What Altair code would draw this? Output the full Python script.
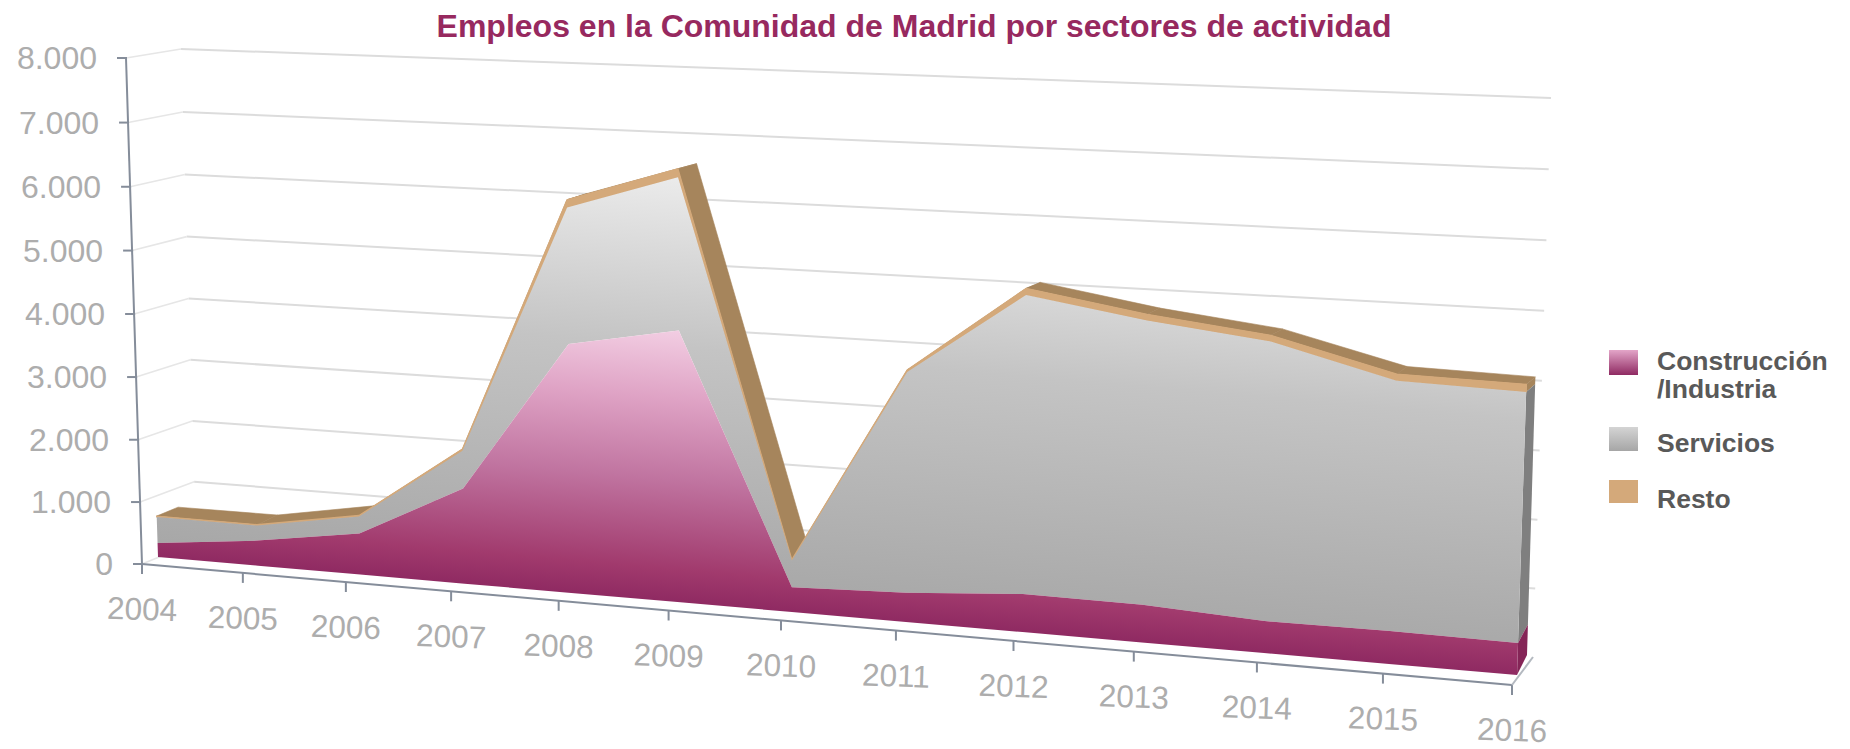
import altair as alt

years = list(range(2004, 2017))
construccion = [225, 400, 650, 1490, 3870, 4190, 380, 440, 570, 560, 470, 480, 460]
servicios = [419, 240, 270, 595, 2120, 2360, 405, 3340, 4480, 4220, 4110, 3640, 3620]
resto = [15, 15, 15, 25, 120, 130, 15, 30, 100, 90, 90, 100, 110]
y_ticks = [0, 1000, 2000, 3000, 4000, 5000, 6000, 7000, 8000]
y_labels = ["0", "1.000", "2.000", "3.000", "4.000", "5.000", "6.000", "7.000", "8.000"]
title_text = "Empleos en la Comunidad de Madrid por sectores de actividad"

MARGIN = 8
LAST = len(years) - 1
VMAX = 8000


def warp(u, k):
    return u / (u + k * (1 - u)) if u > 0 else 0.0


# perspective frame of the 3D chart: corners (bottom-left, bottom-right, top-left, top-right)
AXIS_PLANE = [(142, 564), (1512, 685), (126, 58), (1530, 120)]
BACK_WALL = [(196, 542), (1533, 657), (181, 49), (1551, 98)]
AREA_FRONT = [(158, 557), (1517, 675), (142, 60), (1535, 120)]
AREA_BACK = [(179, 548), (1527, 655), (168, 52), (1543, 124)]


def proj(plane, i, v, kv=1.0):
    s = warp(i / LAST, 1.144)
    w = warp(v / VMAX, kv)
    bl, br, tl, tr = plane
    out = []
    for a in (0, 1):
        bot = bl[a] + (br[a] - bl[a]) * s
        top = tl[a] + (tr[a] - tl[a]) * s
        out.append(bot + (top - bot) * w)
    return out


def poly(pts):
    ring = [list(p) for p in pts]
    ring.append(ring[0])
    return {"type": "Feature", "properties": {}, "geometry": {"type": "Polygon", "coordinates": [ring]}}


def line(pts):
    return {"type": "Feature", "properties": {}, "geometry": {"type": "LineString", "coordinates": [list(p) for p in pts]}}


idx = list(range(len(years)))
top1 = construccion
top2 = [a + b for a, b in zip(construccion, servicios)]
top3 = [a + b + c for a, b, c in zip(construccion, servicios, resto)]
f = lambda i, v: proj(AREA_FRONT, i, v)
b = lambda i, v: proj(AREA_BACK, i, v)


def band(lo, hi):
    return poly([f(i, lo[i]) for i in idx] + [f(i, hi[i]) for i in reversed(idx)])


zero = [0] * len(years)
pink_face = band(zero, top1)
gray_face = band(top1, top2)
tan_face = band(top2, top3)
top_quads = [poly([f(i, top3[i]), f(i + 1, top3[i + 1]), b(i + 1, top3[i + 1]), b(i, top3[i])]) for i in idx[:-1]]


def side(lo, hi):
    return poly([f(LAST, lo), f(LAST, hi), b(LAST, hi), b(LAST, lo)])


grid_back = [line([proj(BACK_WALL, 0, v, 1.024), proj(BACK_WALL, LAST, v, 1.024)]) for v in y_ticks[1:]]
grid_side = [line([proj(AXIS_PLANE, 0, v, 1.024), proj(BACK_WALL, 0, v, 1.024)]) for v in y_ticks]
axis_lines = [
    line([proj(AXIS_PLANE, 0, 0, 1.024), proj(AXIS_PLANE, 0, VMAX, 1.024)]),
    line([proj(AXIS_PLANE, 0, 0, 1.024), proj(AXIS_PLANE, LAST, 0, 1.024)]),
]
floor_side = [line([proj(AXIS_PLANE, LAST, 0, 1.024), proj(BACK_WALL, LAST, 0, 1.024)])]
for v in y_ticks:
    x, y = proj(AXIS_PLANE, 0, v, 1.024)
    axis_lines.append(line([(x - 9, y), (x + 1, y)]))
for i in idx:
    x, y = proj(AXIS_PLANE, i, 0, 1.024)
    axis_lines.append(line([(x, y), (x, y + 10)]))


def squares(x0, x1, y0, y1):
    return poly([(x0, y0), (x1, y0), (x1, y1), (x0, y1)])


IDENT = dict(type="identity", scale=1, translate=[-MARGIN, -MARGIN])


def shape(features, **mark):
    return alt.Chart(alt.Data(values=features)).mark_geoshape(**mark).project(**IDENT)


def grad(stops, x1=0.0, y1=1.0, x2=0.0, y2=0.0):
    return alt.Gradient(gradient="linear", x1=x1, y1=y1, x2=x2, y2=y2,
                        stops=[alt.GradientStop(offset=o, color=c) for o, c in stops])


PINK_STOPS = [(0, "#8f2a62"), (0.12, "#a13a6d"), (0.45, "#c074a0"), (0.75, "#dfa3c5"), (1, "#f2cde2")]
GRAY_STOPS = [(0, "#a6a6a6"), (0.6, "#c4c4c4"), (1, "#ebebeb")]
TAN = "#d4a97a"
BROWN = "#a6855c"
AXIS = "#858d9a"

layers = [
    shape(grid_back, filled=False, stroke="#dcdcdc", strokeWidth=2),
    shape(grid_side, filled=False, stroke="#e6e6e6", strokeWidth=1.6),
    shape(axis_lines, filled=False, stroke=AXIS, strokeWidth=2),
    shape(floor_side, filled=False, stroke="#b4b9c0", strokeWidth=2),
    shape(top_quads, fill=BROWN, stroke=BROWN, strokeWidth=0.6),
    shape([side(top2[LAST], top3[LAST])], fill=BROWN),
    shape([side(top1[LAST], top2[LAST])], fill="#7f7f7f"),
    shape([side(0, top1[LAST])], fill="#852557"),
    shape([tan_face], fill=TAN, stroke=TAN, strokeWidth=1.2),
    shape([gray_face], fill=grad(GRAY_STOPS, 0, 0.815, 0.217, -0.042)),
    shape([pink_face], fill=grad(PINK_STOPS, 0, 0.658, 0.241, -0.047)),
    shape([squares(1609, 1638, 350, 375)], fill=grad([(0, "#8f2a62"), (1, "#e3a5c8")])),
    shape([squares(1609, 1638, 427, 451)], fill=grad([(0, "#a6a6a6"), (1, "#d4d4d4")])),
    shape([squares(1609, 1638, 480, 503)], fill=TAN),
]


def texts(rows, **mark):
    return alt.Chart(alt.Data(values=rows)).mark_text(font="Liberation Sans", **mark).encode(
        x=alt.X("x:Q", scale=None), y=alt.Y("y:Q", scale=None), text="t:N")


x_rows = []
for i in idx:
    x, y = proj(AXIS_PLANE, i, 0, 1.024)
    x_rows.append({"x": x - MARGIN, "y": y + 47 - MARGIN, "t": str(years[i])})
y_rows = []
for v, lab in zip(y_ticks, y_labels):
    x, y = proj(AXIS_PLANE, 0, v, 1.024)
    y_rows.append({"x": x - 29 - MARGIN, "y": y + 1 - MARGIN, "t": lab})

layers += [
    texts(x_rows, fontSize=31.5, color="#adadad", align="center", baseline="middle", angle=2),
    texts(y_rows, fontSize=32, color="#adadad", align="right", baseline="middle"),
    texts([{"x": 914 - MARGIN, "y": 27 - MARGIN, "t": title_text}], fontSize=32, fontWeight="bold",
          color="#97295f", align="center", baseline="middle"),
    texts([{"x": 1657 - MARGIN, "y": yy - MARGIN, "t": tt} for yy, tt in
           [(362, "Construcción"), (390, "/Industria"), (444, "Servicios"), (500, "Resto")]],
          fontSize=26.5, fontWeight="bold", color="#595959", align="left", baseline="middle"),
]

chart = alt.layer(*layers).properties(width=1834, height=741, padding=0, autosize="none",
                                      background="white").configure_view(stroke=None)
chart.save("out.html", embed_options={"renderer": "svg", "actions": False})
